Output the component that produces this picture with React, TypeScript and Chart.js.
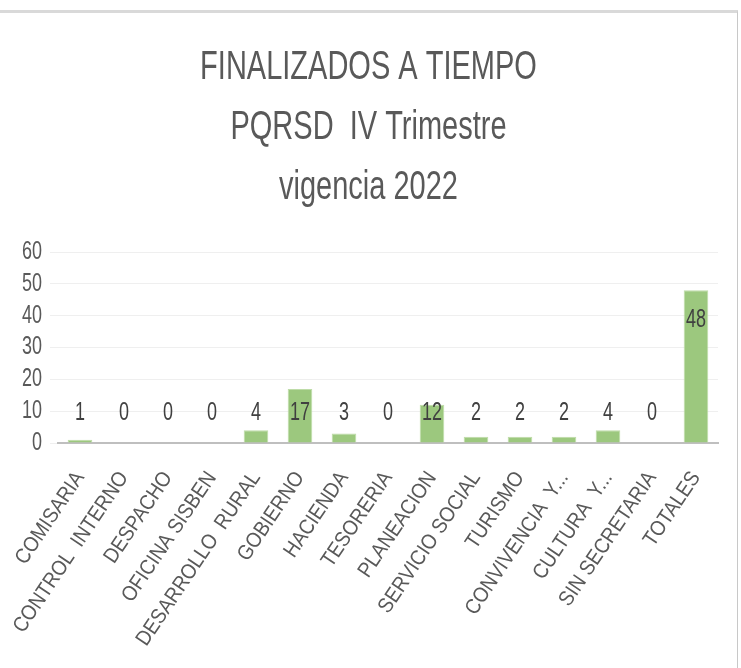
import React, { useEffect, useRef } from "react";
import { Chart, registerables } from "chart.js";

Chart.register(...registerables);

const titleLines = ["FINALIZADOS A TIEMPO", "PQRSD  IV Trimestre", "vigencia 2022"];
const categories = [
  "COMISARIA",
  "CONTROL  INTERNO",
  "DESPACHO",
  "OFICINA SISBEN",
  "DESARROLLO  RURAL",
  "GOBIERNO",
  "HACIENDA",
  "TESORERIA",
  "PLANEACION",
  "SERVICIO SOCIAL",
  "TURISMO",
  "CONVIVENCIA  Y...",
  "CULTURA  Y...",
  "SIN SECRETARIA",
  "TOTALES",
];
const values = [1, 0, 0, 0, 4, 17, 3, 0, 12, 2, 2, 2, 4, 0, 48];
const yTicks = [0, 10, 20, 30, 40, 50, 60];

const SY = 1.4;
const FONT = '"Liberation Sans", Arial, sans-serif';

function stretchedText(
  ctx: CanvasRenderingContext2D,
  s: string,
  x: number,
  y: number,
  size: number,
  color: string,
  align: CanvasTextAlign
) {
  ctx.save();
  ctx.translate(x, y);
  ctx.scale(1, SY);
  ctx.font = `${size}px ${FONT}`;
  ctx.fillStyle = color;
  ctx.textAlign = align;
  ctx.textBaseline = "middle";
  ctx.fillText(s, 0, 0);
  ctx.restore();
}

function rotatedText(
  ctx: CanvasRenderingContext2D,
  s: string,
  x: number,
  y: number,
  size: number,
  color: string,
  angle: number
) {
  ctx.save();
  ctx.translate(x, y);
  ctx.rotate(angle);
  ctx.scale(1.0, 1.12);
  ctx.font = `${size}px ${FONT}`;
  ctx.fillStyle = color;
  ctx.textAlign = "right";
  ctx.textBaseline = "middle";
  ctx.fillText(s, 0, 0);
  ctx.restore();
}

const textPlugin = {
  id: "stretchedTexts",
  afterDraw(chart: any) {
    const ctx: CanvasRenderingContext2D = chart.ctx;
    const xs = chart.scales.x;
    const ys = chart.scales.y;
    const cx = chart.width / 2 - 2;
    titleLines.forEach((line, i) => {
      stretchedText(ctx, line, cx, 68 + i * 60, 29, "#595959", "center");
    });
    yTicks.forEach((t) => {
      stretchedText(ctx, String(t), ys.right - 16, ys.getPixelForValue(t), 18, "#595959", "right");
    });
    categories.forEach((c, i) => {
      const px = xs.getPixelForValue(i);
      rotatedText(ctx, c, px + 0, xs.top + 31, 19, "#595959", (-56 * Math.PI) / 180);
    });
    const meta = chart.getDatasetMeta(0);
    meta.data.forEach((bar: any, i: number) => {
      const y = Math.min(bar.y + 30, ys.getPixelForValue(9.4));
      stretchedText(ctx, String(values[i]), bar.x, y, 18, "#404040", "center");
    });
  },
};

export default function App() {
  const ref = useRef<HTMLCanvasElement | null>(null);
  useEffect(() => {
    if (!ref.current) return;
    const chart = new Chart(ref.current, {
      type: "bar",
      data: {
        labels: categories,
        datasets: [
          {
            data: values,
            backgroundColor: "#9CC87E",
            borderColor: "#BEDCA8",
            borderWidth: 1,
            barPercentage: 0.56,
            categoryPercentage: 1,
          },
        ],
      },
      options: {
        responsive: false,
        animation: false,
        layout: { padding: { top: 252, right: 23, left: 0, bottom: 0 } },
        plugins: { legend: { display: false }, title: { display: false }, tooltip: { enabled: false } },
        scales: {
          x: {
            grid: { display: false },
            border: { display: true, color: "#BFBFBF", width: 2 },
            ticks: { display: false },
            afterFit: (s: any) => {
              s.height = 225;
            },
          },
          y: {
            min: 0,
            max: 60,
            ticks: { display: false, stepSize: 10 },
            grid: { color: "#EFEFEF", lineWidth: 1 },
            border: { display: false },
            afterFit: (s: any) => {
              s.width = 58;
            },
          },
        },
      },
      plugins: [textPlugin],
    });
    return () => chart.destroy();
  }, []);
  return (
    <div style={{ position: "absolute", left: 0, top: 0, width: 741, height: 668, background: "#fff" }}>
      <div
        style={{
          position: "absolute",
          left: 0,
          top: 10,
          width: 738,
          height: 700,
          borderTop: "3px solid #D9D9D9",
          borderRight: "1px solid #C8C8C8",
          boxSizing: "border-box",
        }}
      />
      <canvas ref={ref} width={741} height={668} style={{ position: "absolute", left: 0, top: 0 }} />
    </div>
  );
}
